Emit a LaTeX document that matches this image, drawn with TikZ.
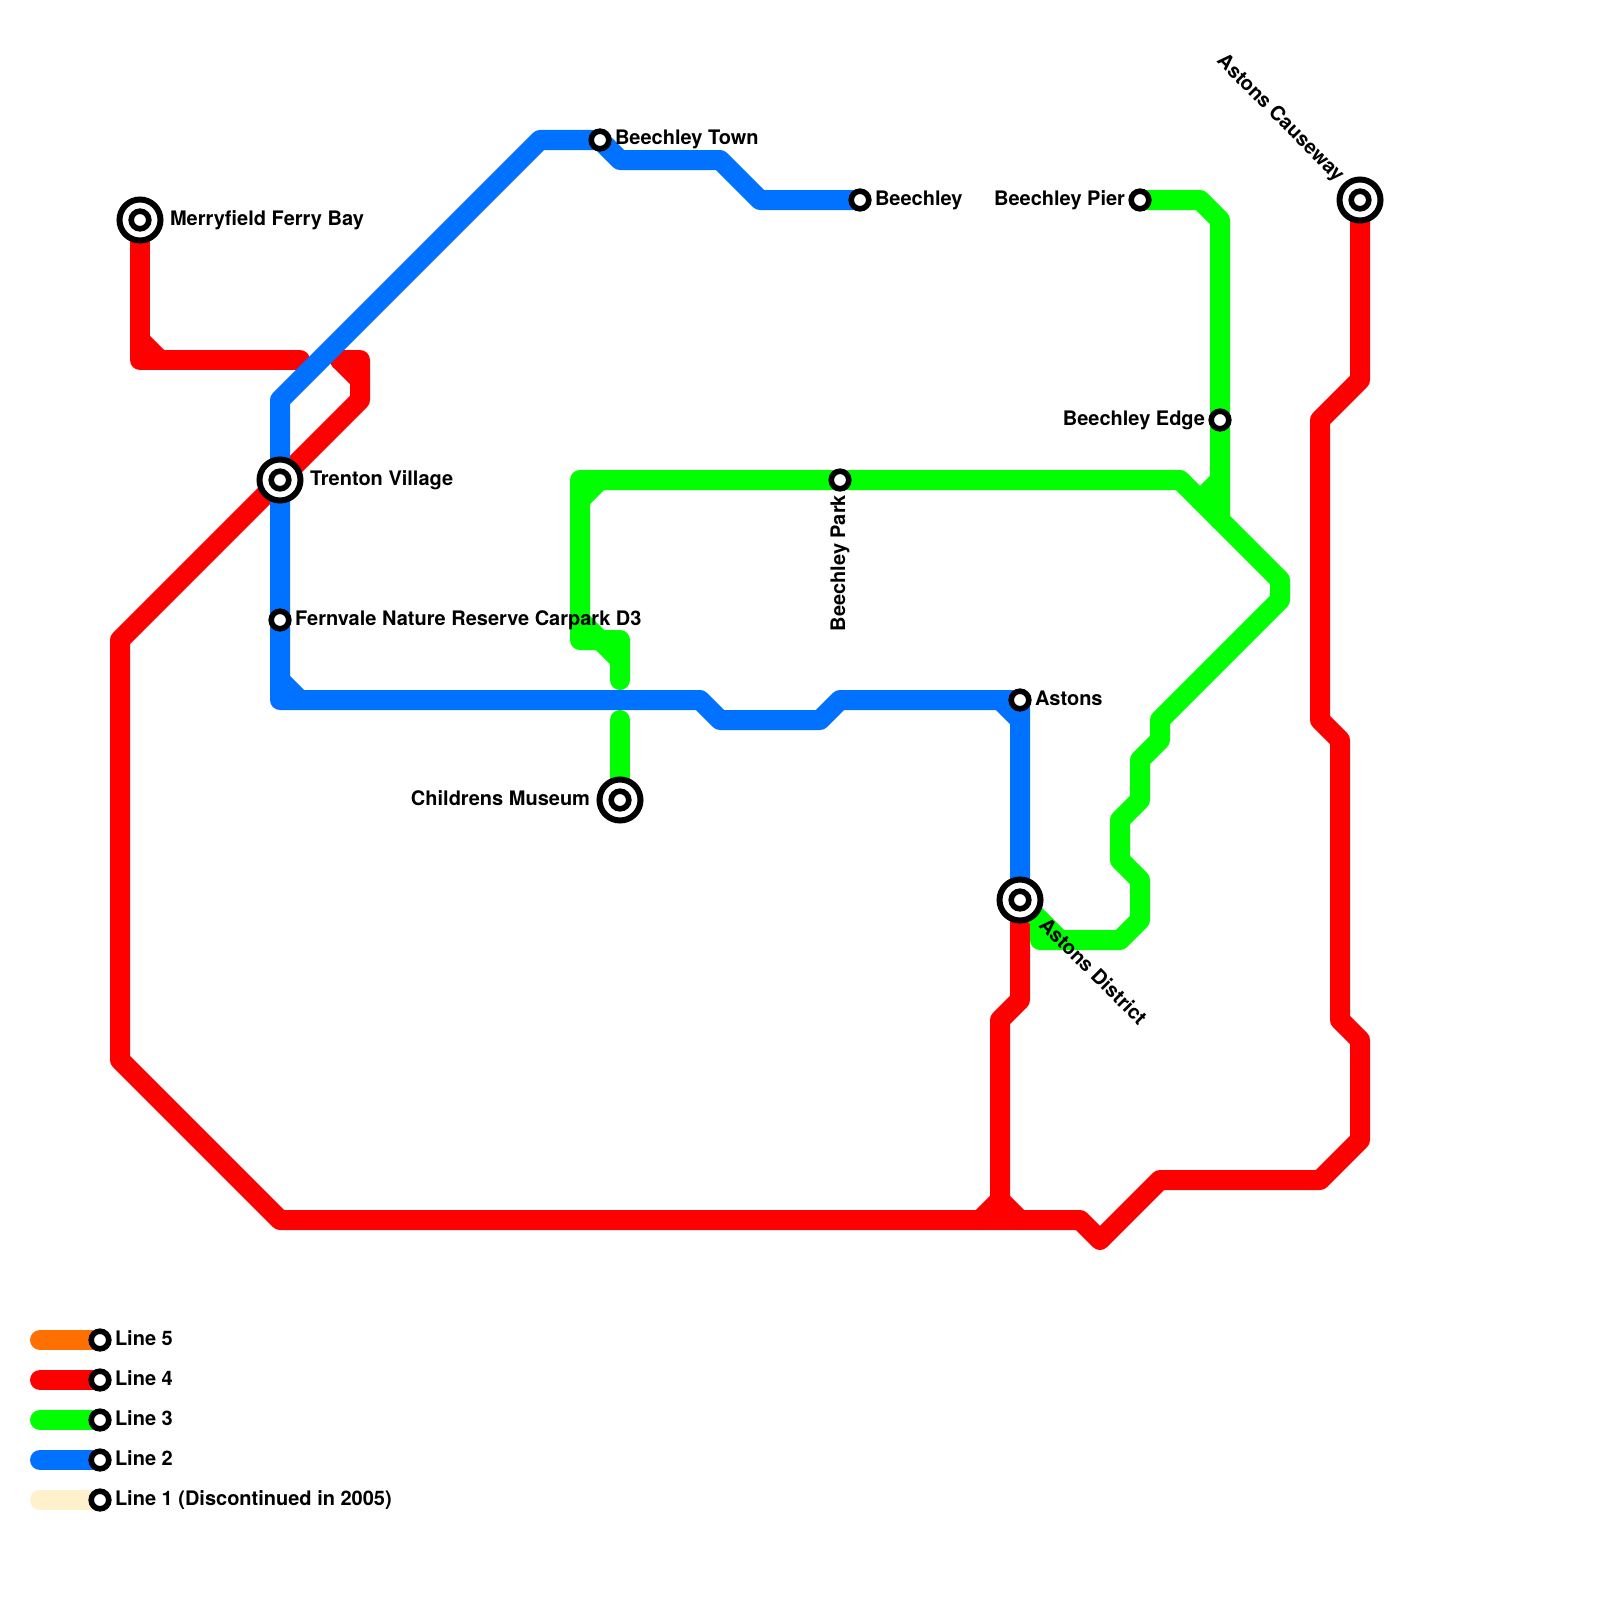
\documentclass[tikz,border=0pt]{standalone}
\usepackage{fontspec}
\setmainfont{TeX Gyre Heros}
\definecolor{lorange}{HTML}{FF7000}
\definecolor{lred}{HTML}{FF0000}
\definecolor{lgreen}{HTML}{00FF00}
\definecolor{lblue}{HTML}{0072FF}
\definecolor{lcream}{HTML}{FFF1CC}
\tikzset{
  metro/.style={line width=20pt,line cap=round,line join=round},
  smallst/.style={circle,draw=black,fill=white,line width=5.6pt,minimum size=17.6pt,inner sep=0pt,outer sep=0pt},
  bigst/.style={circle,draw=black,fill=white,line width=6pt,minimum size=41pt,inner sep=0pt,outer sep=0pt},
  lab/.style={font=\bfseries\fontsize{20}{22}\selectfont,text=black,inner sep=0pt,outer sep=0pt},
}
\begin{document}
\begin{tikzpicture}[x=1pt,y=-1pt]
\useasboundingbox (0,0) rectangle (1600,1600);
% station positions
\coordinate (cMerry) at (140,220);
\coordinate (cTrenton) at (280,480);
\coordinate (cFern) at (280,620);
\coordinate (cTown) at (600,140);
\coordinate (cBeech) at (860,200);
\coordinate (cPier) at (1140,200);
\coordinate (cEdge) at (1220,420);
\coordinate (cPark) at (840,480);
\coordinate (cAstons) at (1020,700);
\coordinate (cDistrict) at (1020,900);
\coordinate (cMuseum) at (620,800);
\coordinate (cCause) at (1360,200);
\foreach \n/\yy in {5/1340,4/1380,3/1420,2/1460,1/1500}{
  \coordinate (cL\n) at (100,\yy);
  \coordinate (sL\n) at (40,\yy);
}
% Legend lines
\draw[metro,lorange] (sL5) -- (cL5);
\draw[metro,lred] (sL4) -- (cL4);
\draw[metro,lgreen] (sL3) -- (cL3);
\draw[metro,lblue] (sL2) -- (cL2);
\draw[metro,lcream] (sL1) -- (cL1);
% Line 4
\draw[metro,lred] (cMerry) -- (140,360) -- (300,360);
\draw[metro,lred] (140,340) -- (160,360);
\draw[metro,lred] (340,360) -- (360,360) -- (360,400) -- (120,640) -- (120,1060) -- (280,1220) -- (1080,1220) -- (1100,1240) -- (1160,1180) -- (1320,1180) -- (1360,1140) -- (1360,1040) -- (1340,1020) -- (1340,740) -- (1320,720) -- (1320,420) -- (1360,380) -- (cCause);
\draw[metro,lred] (340,360) -- (360,380);
\draw[metro,lred] (cDistrict) -- (1020,1000) -- (1000,1020) -- (1000,1200) -- (980,1220);
\draw[metro,lred] (1000,1200) -- (1020,1220);
% Line 3
\draw[metro,lgreen] (cPier) -- (1200,200) -- (1220,220) -- (1220,520);
\draw[metro,lgreen] (1220,480) -- (1200,500);
\draw[metro,lgreen] (620,680) -- (620,640) -- (580,640) -- (580,480) -- (1180,480) -- (1280,580) -- (1280,600) -- (1160,720) -- (1160,740) -- (1140,760) -- (1140,800) -- (1120,820) -- (1120,860) -- (1140,880) -- (1140,920) -- (1120,940) -- (1040,940) -- (1040,920);
\draw[metro,lgreen] (cDistrict) -- (1060,940);
\draw[metro,lgreen] (600,640) -- (620,660);
\draw[metro,lgreen] (580,620) -- (600,640);
\draw[metro,lgreen] (580,500) -- (600,480);
\draw[metro,lgreen] (620,720) -- (cMuseum);
% Line 2
\draw[metro,lblue] (cDistrict) -- (1020,700) -- (840,700) -- (820,720) -- (720,720) -- (700,700) -- (280,700) -- (280,400) -- (540,140) -- (600,140) -- (620,160) -- (720,160) -- (760,200) -- (cBeech);
\draw[metro,lblue] (1000,700) -- (1020,720);
\draw[metro,lblue] (280,680) -- (300,700);
% Stations
\foreach \n in {Merry,Trenton,District,Museum,Cause}{
  \node[bigst] (\n) at (c\n) {};
  \node[smallst] (\n-in) at (c\n) {};
}
\foreach \n in {Fern,Town,Beech,Pier,Edge,Park,Astons,L5,L4,L3,L2,L1}{
  \node[smallst] (\n) at (c\n) {};
}
% Labels
\node[lab,anchor=base west] (tMerry) at (170,225) {Merryfield Ferry Bay};
\node[lab,anchor=base west] (tTrenton) at (310,485) {Trenton Village};
\node[lab,anchor=base west] (tFern) at (295,625) {Fernvale Nature Reserve Carpark D3};
\node[lab,anchor=base west] (tTown) at (615,145) {Beechley Town};
\node[lab,anchor=base west] (tBeech) at (875,205) {Beechley};
\node[lab,anchor=base east] (tPier) at (1125,205) {Beechley Pier};
\node[lab,anchor=base east] (tEdge) at (1205,425) {Beechley Edge};
\node[lab,anchor=base east] (tMuseum) at (590,805) {Childrens Museum};
\node[lab,anchor=base west] (tAstons) at (1035,705) {Astons};
\node[lab,anchor=base east,rotate=90] (tPark) at (845,495) {Beechley Park};
\node[lab,anchor=base west,rotate=-45] (tDistrict) at (1038,926) {Astons District};
\node[lab,anchor=base west,rotate=-45] (tCause) at (1216,62) {Astons Causeway};
\node[lab,anchor=base west] (tL5) at (115,1345) {Line 5};
\node[lab,anchor=base west] (tL4) at (115,1385) {Line 4};
\node[lab,anchor=base west] (tL3) at (115,1425) {Line 3};
\node[lab,anchor=base west] (tL2) at (115,1465) {Line 2};
\node[lab,anchor=base west] (tL1) at (115,1505) {Line 1 (Discontinued in 2005)};
\end{tikzpicture}
\end{document}
